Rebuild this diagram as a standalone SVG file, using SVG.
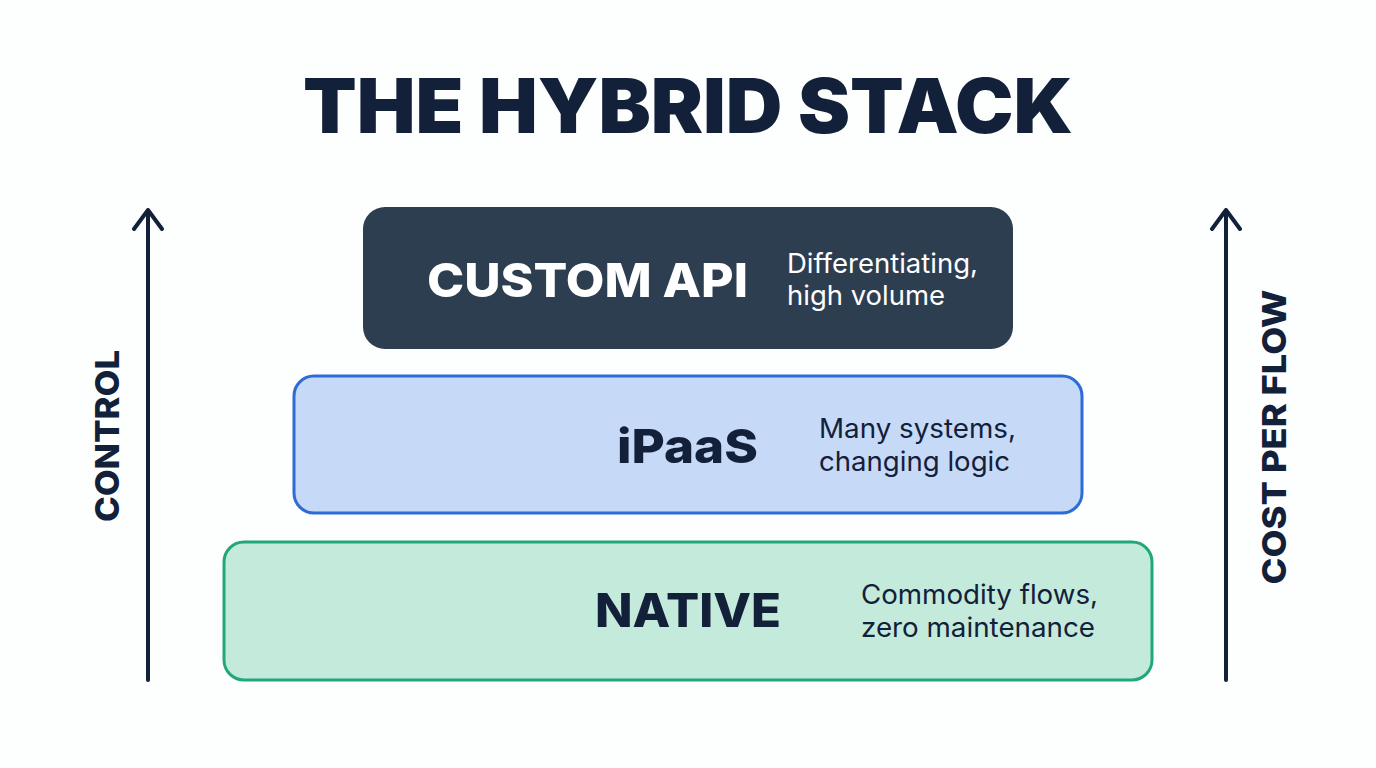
<svg xmlns="http://www.w3.org/2000/svg" width="1376" height="768" viewBox="0 0 1376 768">
<style>
.title{font-family:Inter,"Noto Sans",sans-serif;font-weight:900;fill:#13203a}
.head{font-family:Inter,"Noto Sans",sans-serif;font-weight:800}
.desc{font-family:Inter,"Noto Sans",sans-serif;font-weight:400;font-size:27px}
.axis{font-family:Inter,"Noto Sans",sans-serif;font-weight:800;fill:#13203a;font-size:33px}
.arrow{stroke:#13203a;stroke-width:4;fill:none;stroke-linecap:round;stroke-linejoin:round}
</style>
<rect width="1376" height="768" fill="#fdfefe"/>
<text class="title" x="688" y="133" font-size="75" text-anchor="middle" textLength="770" lengthAdjust="spacingAndGlyphs">THE HYBRID STACK</text>
<g id="axes">
<g id="control-axis">
<path class="arrow" d="M148,680 V210 M134,229 L148,210 L162,229"/>
<text class="axis" transform="translate(119,436) rotate(-90)" text-anchor="middle" textLength="172" lengthAdjust="spacingAndGlyphs">CONTROL</text>
</g>
<g id="cost-axis">
<path class="arrow" d="M1226,680 V210 M1212,229 L1226,210 L1240,229"/>
<text class="axis" transform="translate(1286,437) rotate(-90)" text-anchor="middle" textLength="295" lengthAdjust="spacingAndGlyphs">COST PER FLOW</text>
</g>
</g>
<g id="custom-api">
<rect x="363" y="207" width="650" height="142" rx="22" fill="#2e3e51"/>
<text class="head" x="427" y="297" font-size="47" fill="#ffffff" textLength="321" lengthAdjust="spacingAndGlyphs">CUSTOM API</text>
<text class="desc" x="787" y="273" fill="#ffffff" textLength="191" lengthAdjust="spacingAndGlyphs">Differentiating,</text>
<text class="desc" x="787" y="305" fill="#ffffff" textLength="158" lengthAdjust="spacingAndGlyphs">high volume</text>
</g>
<g id="ipaas">
<rect x="294" y="376" width="788" height="137" rx="20" fill="#c6d9f6" stroke="#2d6cd6" stroke-width="3"/>
<text class="head" x="617" y="463" font-size="47" fill="#13203a" textLength="141" lengthAdjust="spacingAndGlyphs">iPaaS</text>
<text class="desc" x="819" y="438" fill="#13203a" textLength="197" lengthAdjust="spacingAndGlyphs">Many systems,</text>
<text class="desc" x="819" y="471" fill="#13203a" textLength="191" lengthAdjust="spacingAndGlyphs">changing logic</text>
</g>
<g id="native">
<rect x="224" y="542" width="928" height="138" rx="20" fill="#c4eadb" stroke="#20a87a" stroke-width="3"/>
<text class="head" x="595" y="627" font-size="47" fill="#13203a" textLength="186" lengthAdjust="spacingAndGlyphs">NATIVE</text>
<text class="desc" x="861" y="604" fill="#13203a" textLength="237" lengthAdjust="spacingAndGlyphs">Commodity flows,</text>
<text class="desc" x="861" y="637" fill="#13203a" textLength="234" lengthAdjust="spacingAndGlyphs">zero maintenance</text>
</g>
</svg>
